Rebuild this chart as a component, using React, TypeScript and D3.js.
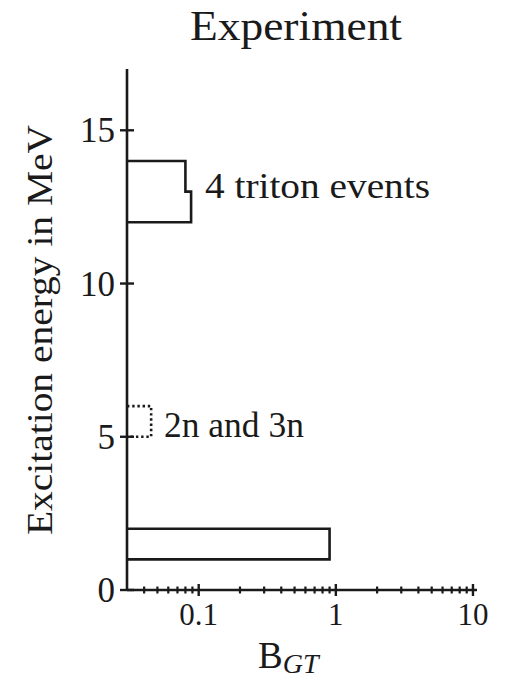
import React from "react";
import * as d3 from "d3";

// Gamow-Teller strength per excitation-energy bin (MeV)
const groundBins = [{ e0: 1, e1: 2, bgt: 0.9 }];
const tritonBins = [
  { e0: 12, e1: 13, bgt: 0.088 },
  { e0: 13, e1: 14, bgt: 0.08 },
];
const neutronBins = [{ e0: 5, e1: 6, bgt: 0.045 }];

const yTicks = [0, 5, 10, 15];
const xTicks = [0.1, 1, 10];
const xTickLabels = ["0.1", "1", "10"];

const W = 517;
const H = 683;
const FONT = "'Liberation Serif', 'Times New Roman', serif";
const INK = "#1a1a1a";

const x = d3.scaleLog().domain([0.03, 10.7]).range([127, 477]);
const y = d3.scaleLinear().domain([0, 17]).range([590, 69]);

// Outline of a stepped histogram whose left edge sits on the y axis
function stepOutline(bins: { e0: number; e1: number; bgt: number }[]) {
  const sorted = [...bins].sort((a, b) => b.e1 - a.e1);
  const pts: [number, number][] = [];
  const x0 = x.range()[0];
  pts.push([x0, y(sorted[0].e1)]);
  sorted.forEach((b) => {
    pts.push([x(b.bgt), y(b.e1)]);
    pts.push([x(b.bgt), y(b.e0)]);
  });
  pts.push([x0, y(sorted[sorted.length - 1].e0)]);
  return d3.line()(pts) as string;
}

const minorTicks: number[] = [];
for (let d = -2; d <= 0; d++) {
  for (let k = 2; k <= 9; k++) {
    const v = k * Math.pow(10, d);
    if (v > 0.031 && v < 10) minorTicks.push(v);
  }
}

export default function App() {
  const [x0, x1] = x.range();
  const [yb, yt] = y.range();
  return (
    <svg
      width={W}
      height={H}
      viewBox={`0 0 ${W} ${H}`}
      style={{ position: "absolute", left: 0, top: 0, background: "#fff" }}
      fontFamily={FONT}
      fill={INK}
    >
      <text x={296} y={40} fontSize={42} textAnchor="middle" textLength={212} lengthAdjust="spacingAndGlyphs">
        Experiment
      </text>

      {/* axes */}
      <line x1={x0} x2={x0} y1={yt} y2={yb} stroke={INK} strokeWidth={2.6} />
      <line x1={x0} x2={x1} y1={yb} y2={yb} stroke={INK} strokeWidth={2.6} />

      {yTicks.map((t) => (
        <g key={`y${t}`}>
          <line x1={x0 - 7} x2={x0 + 7} y1={y(t)} y2={y(t)} stroke={INK} strokeWidth={2.4} />
          <text x={115} y={y(t) + 12} fontSize={35} textAnchor="end">
            {t}
          </text>
        </g>
      ))}

      {xTicks.map((t, i) => (
        <g key={`x${t}`}>
          <line x1={x(t)} x2={x(t)} y1={yb - 6} y2={yb + 6} stroke={INK} strokeWidth={2.4} />
          <text x={x(t)} y={625} fontSize={31} textAnchor="middle">
            {xTickLabels[i]}
          </text>
        </g>
      ))}
      {minorTicks.map((t) => (
        <line key={`m${t}`} x1={x(t)} x2={x(t)} y1={yb - 3.5} y2={yb + 3.5} stroke={INK} strokeWidth={2.2} />
      ))}

      <text
        transform={`translate(52,330) rotate(-90)`}
        fontSize={36}
        textAnchor="middle"
        textLength={410}
        lengthAdjust="spacingAndGlyphs"
      >
        Excitation energy in MeV
      </text>

      <text x={258} y={668} fontSize={37}>
        B
        <tspan fontSize={28} fontStyle="italic" dy={5}>
          GT
        </tspan>
      </text>

      {/* strength histograms */}
      <path d={stepOutline(groundBins)} fill="none" stroke={INK} strokeWidth={2.6} />
      <path d={stepOutline(tritonBins)} fill="none" stroke={INK} strokeWidth={2.6} strokeLinejoin="miter" />
      <path
        d={stepOutline(neutronBins)}
        fill="none"
        stroke={INK}
        strokeWidth={2.6}
        strokeDasharray="2.4 2.8"
      />

      <text x={205} y={198} fontSize={35} textLength={225} lengthAdjust="spacingAndGlyphs">
        4 triton events
      </text>
      <text x={164} y={437} fontSize={35} textLength={140} lengthAdjust="spacingAndGlyphs">
        2n and 3n
      </text>
    </svg>
  );
}
